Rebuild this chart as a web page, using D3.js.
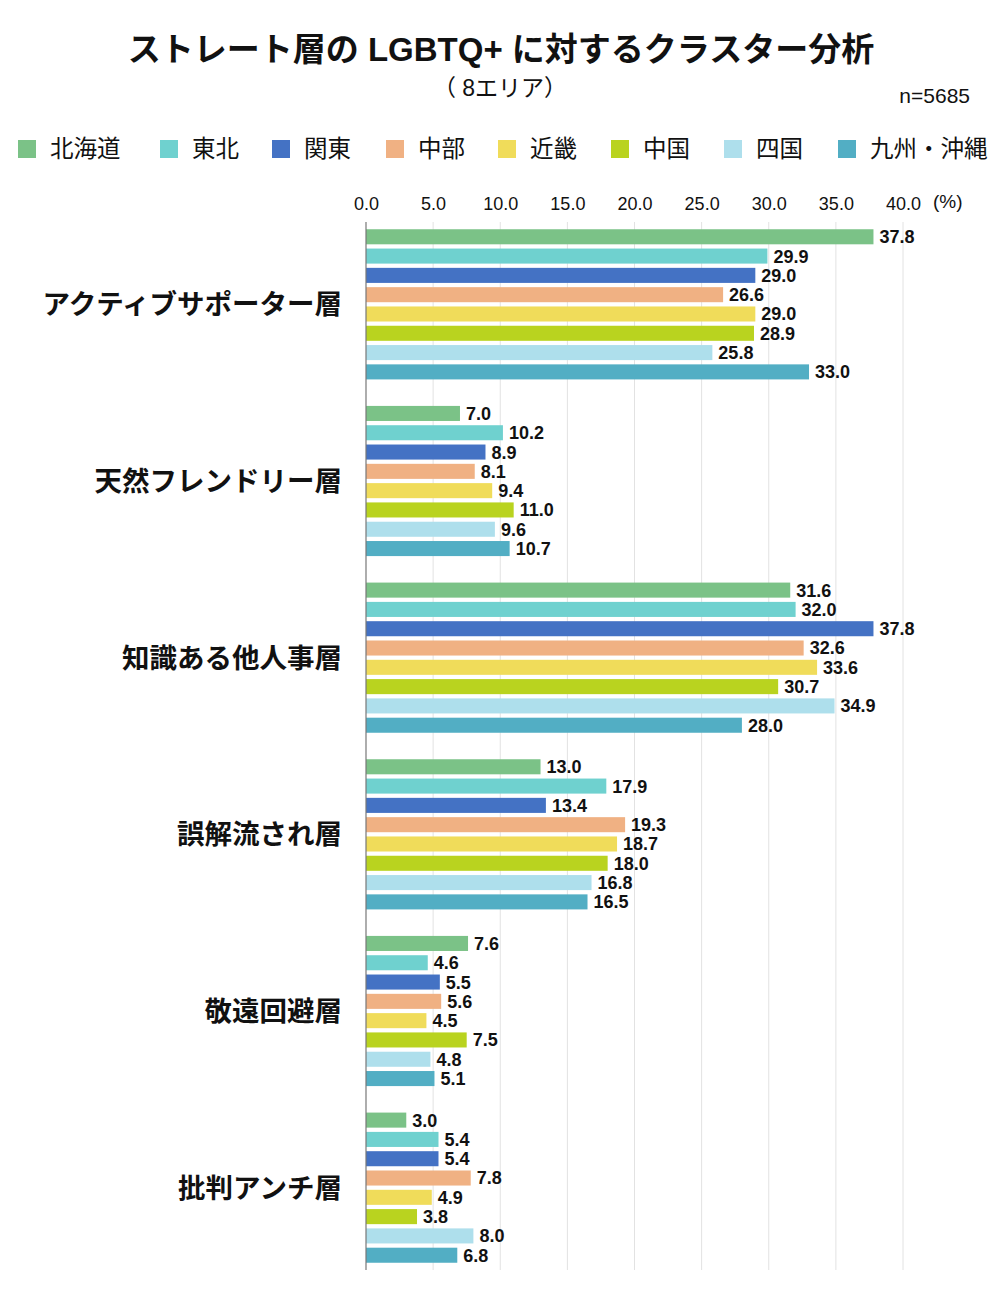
<!DOCTYPE html>
<html><head><meta charset="utf-8">
<script src="https://cdn.jsdelivr.net/npm/d3@7"></script>
<style>body{margin:0;background:#fff;} svg{display:block;}</style>
</head><body>
<script>
const categories = ["アクティブサポーター層","天然フレンドリー層","知識ある他人事層","誤解流され層","敬遠回避層","批判アンチ層"];
const regions = ["北海道","東北","関東","中部","近畿","中国","四国","九州・沖縄"];
const colors = ["#7bc287","#6fd1cf","#4472c4","#f0b183","#f0dc5a","#b9d31f","#aedfec","#52aec4"];
const hokkaido = [37.8,7.0,31.6,13.0,7.6,3.0];
const tohoku   = [29.9,10.2,32.0,17.9,4.6,5.4];
const kanto    = [29.0,8.9,37.8,13.4,5.5,5.4];
const chubu    = [26.6,8.1,32.6,19.3,5.6,7.8];
const kinki    = [29.0,9.4,33.6,18.7,4.5,4.9];
const chugoku  = [28.9,11.0,30.7,18.0,7.5,3.8];
const shikoku  = [25.8,9.6,34.9,16.8,4.8,8.0];
const kyushu   = [33.0,10.7,28.0,16.5,5.1,6.8];
const seriesValues = [hokkaido,tohoku,kanto,chubu,kinki,chugoku,shikoku,kyushu];
const xTicks = [0,5,10,15,20,25,30,35,40];

const W=1000,H=1300;
const font = "'Liberation Sans','Noto Sans CJK JP',sans-serif";
const svg = d3.select("body").append("svg").attr("width",W).attr("height",H).style("font-family",font);

svg.append("text").attr("x",501).attr("y",61).attr("text-anchor","middle")
  .attr("font-size",33).attr("font-weight","bold").attr("fill","#111").text("ストレート層の LGBTQ+ に対するクラスター分析");
svg.append("text").attr("x",500).attr("y",96).attr("text-anchor","middle")
  .attr("font-size",23).attr("fill","#111").text("（ 8エリア）");
svg.append("text").attr("x",970).attr("y",103).attr("text-anchor","end")
  .attr("font-size",21).attr("fill","#111").text("n=5685");

// legend
const legX = [18,160,272,386,498,611,724,838];
const lg = svg.append("g");
regions.forEach((r,i)=>{
  lg.append("rect").attr("x",legX[i]).attr("y",140).attr("width",18).attr("height",18).attr("fill",colors[i]);
  lg.append("text").attr("x",legX[i]+32).attr("y",157).attr("font-size",23.5).attr("fill","#111").text(r);
});

const x = d3.scaleLinear().domain([0,40]).range([366,903]);
const y0 = d3.scaleBand().domain(categories).range([216,1276]).paddingInner(0.15).paddingOuter(0.075);
const y1 = d3.scaleBand().domain(regions).range([0,y0.bandwidth()]).paddingInner(0.22);

// gridlines
svg.append("g").selectAll("line").data(xTicks.slice(1)).join("line")
  .attr("x1",d=>x(d)).attr("x2",d=>x(d)).attr("y1",222).attr("y2",1270)
  .attr("stroke","#e2e2e2").attr("stroke-width",1);

// axis labels top
const ax = svg.append("g").attr("transform","translate(0,210)")
  .call(d3.axisTop(x).tickValues(xTicks).tickFormat(d3.format(".1f")).tickSize(0).tickPadding(0));
ax.select(".domain").remove();
ax.selectAll("text").attr("font-size",18).attr("fill","#111").style("font-family",font);
svg.append("text").attr("x",933).attr("y",208).attr("font-size",19).attr("fill","#111").text("(%)");

// bars
const groups = svg.append("g").selectAll("g").data(categories).join("g")
  .attr("transform",c=>`translate(0,${y0(c)})`);
groups.each(function(c,ci){
  const g = d3.select(this);
  regions.forEach((r,ri)=>{
    const v = seriesValues[ri][ci];
    g.append("rect").attr("x",x(0)).attr("y",y1(r)).attr("width",x(v)-x(0)).attr("height",y1.bandwidth())
      .attr("fill",colors[ri]);
    g.append("text").attr("x",x(v)+6).attr("y",y1(r)+y1.bandwidth()/2).attr("dy","0.36em")
      .attr("font-size",18).attr("font-weight","bold").attr("fill","#111").text(d3.format(".1f")(v));
  });
  g.append("text").attr("x",342).attr("y",y0.bandwidth()/2).attr("dy","0.36em").attr("text-anchor","end")
    .attr("font-size",27.5).attr("font-weight","bold").attr("fill","#111").text(c);
});

// axis baseline
svg.append("line").attr("x1",x(0)).attr("x2",x(0)).attr("y1",222).attr("y2",1270).attr("stroke","#777").attr("stroke-width",1.2);
</script>
</body></html>
